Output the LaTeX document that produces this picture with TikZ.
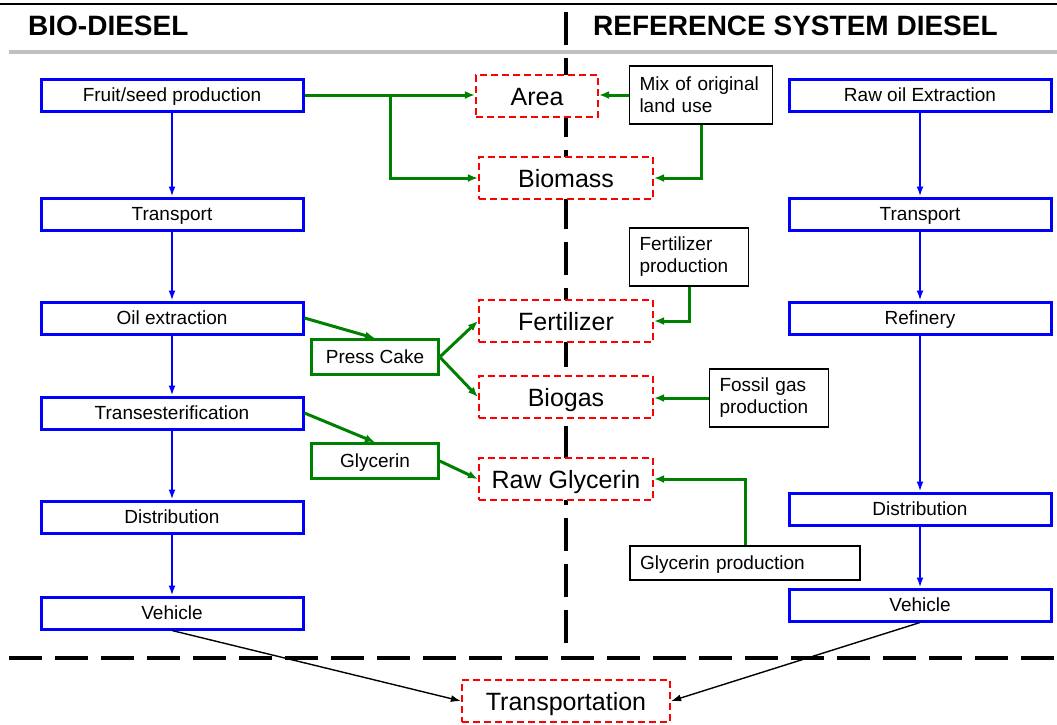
\documentclass[tikz,border=0pt]{standalone}
\usepackage{fontspec}
\setmainfont{Liberation Sans}
\usetikzlibrary{arrows.meta}
\definecolor{procblue}{RGB}{0,0,255}
\definecolor{flowgreen}{RGB}{0,128,0}
\definecolor{impactred}{RGB}{255,0,0}
\definecolor{rulegray}{RGB}{192,192,192}
\def\txt{\fontsize{19}{22}\selectfont}
\def\bigtxt{\fontsize{25}{28}\selectfont}
\def\headtxt{\fontsize{28}{32}\selectfont\bfseries}
\def\procnode{\node[draw=procblue,line width=3pt,fill=white,minimum width=262pt,minimum height=32pt,inner sep=0pt,text height=15pt,text depth=1.5pt,font=\txt]}
\def\impactnode{\node[draw=impactred,line width=2.2pt,dash pattern=on 7pt off 4pt,fill=white,minimum width=174pt,minimum height=42pt,inner sep=0pt,text height=19pt,text depth=1pt,font=\bigtxt]}
\def\coprodnode{\node[draw=flowgreen,line width=2.5pt,fill=white,minimum width=127pt,minimum height=35pt,inner sep=0pt,text height=15pt,text depth=1.5pt,font=\txt]}
\def\refnode{\node[draw=black,line width=1.4pt,fill=white,minimum height=58pt,inner xsep=10pt,inner ysep=0pt,align=left,font=\txt]}
\def\blueflow{\draw[procblue,line width=2.4pt,-{Latex[length=10pt,width=7pt]}]}
\def\greenflow{\draw[flowgreen,line width=3pt,-{Latex[length=10pt,width=8pt]}]}
\def\blackflow{\draw[black,line width=1.4pt,-{Latex[length=10pt,width=7pt]}]}
\def\divider{\draw[black,line width=4.5pt,dash pattern=on 33pt off 13pt]}

\begin{document}
\begin{tikzpicture}[x=1pt,y=-1pt]
\useasboundingbox (0,0) rectangle (1057,724);
% dividers and headings
\divider (566,12) -- (566,648);
\divider (9,658) -- (1057,658);
\draw[line width=1.5pt] (0,4) -- (1057,4);
\draw[rulegray,line width=4pt] (9,52) -- (1057,52);
\node[anchor=west,inner sep=0pt,font=\headtxt] (biohead) at (28,26) {BIO-DIESEL};
\node[anchor=west,inner sep=0pt,font=\headtxt] (refhead) at (593,26) {REFERENCE SYSTEM DIESEL};
% bio-diesel chain
\procnode (fruit) at (172,95) {Fruit/seed production};
\procnode (ltrans) at (172,214) {Transport};
\procnode (oil) at (172,318) {Oil extraction};
\procnode (ester) at (172,413) {Transesterification};
\procnode (ldist) at (172,517) {Distribution};
\procnode (lveh) at (172,613) {Vehicle};
% reference chain
\procnode (rawoil) at (920,95) {Raw oil Extraction};
\procnode (rtrans) at (920,214) {Transport};
\procnode (refin) at (920,318) {Refinery};
\procnode (rdist) at (920,509) {Distribution};
\procnode (rveh) at (920,605) {Vehicle};
% impact categories
\impactnode[minimum width=122pt] (area) at (537,96) {Area};
\impactnode (biomass) at (566,178) {Biomass};
\impactnode (fert) at (566,321) {Fertilizer};
\impactnode (biogas) at (566,397) {Biogas};
\impactnode (rawgly) at (566,479) {Raw Glycerin};
\impactnode[minimum width=208pt] (transp) at (566,701) {Transportation};
% co-products
\coprodnode (press) at (375,357) {Press Cake};
\coprodnode (gly) at (375,461) {Glycerin};
% substituted products
\refnode[text width=123pt] (mix) at (701,95) {Mix of original\\land use};
\refnode[text width=99pt] (fertprod) at (689,257) {Fertilizer\\production};
\refnode[text width=99pt] (fossil) at (769,398) {Fossil gas\\production};
\refnode[text width=210pt,minimum height=34pt,text height=15pt,text depth=1.5pt] (glyprod) at (745,563) {Glycerin production};
% process flows
\blueflow (fruit) -- (ltrans);
\blueflow (ltrans) -- (oil);
\blueflow (oil) -- (ester);
\blueflow (ester) -- (ldist);
\blueflow (ldist) -- (lveh);
\blueflow (rawoil) -- (rtrans);
\blueflow (rtrans) -- (refin);
\blueflow (refin) -- (rdist);
\blueflow (rdist) -- (rveh);
% allocation flows
\coordinate (split) at (390,95);
\greenflow (fruit.east) -- (fruit.east -| area.west);
\greenflow (split) |- (biomass.west);
\greenflow (mix.west) -- (mix.west -| area.east);
\greenflow (mix.south) |- (biomass.east);
\greenflow (fertprod.south) |- (fert.east);
\greenflow (fossil.west) -- (fossil.west -| biogas.east);
\greenflow (glyprod.north) |- (rawgly.east);
\greenflow (oil.east) -- (press.north);
\greenflow (press.east) -- (fert.west);
\greenflow (press.east) -- (biogas.west);
\greenflow (ester.east) -- (gly.north);
\greenflow (gly.east) -- (rawgly.west);
\blackflow (lveh.south) -- (transp.west);
\blackflow (rveh.south) -- (transp.east);
\end{tikzpicture}
\end{document}
